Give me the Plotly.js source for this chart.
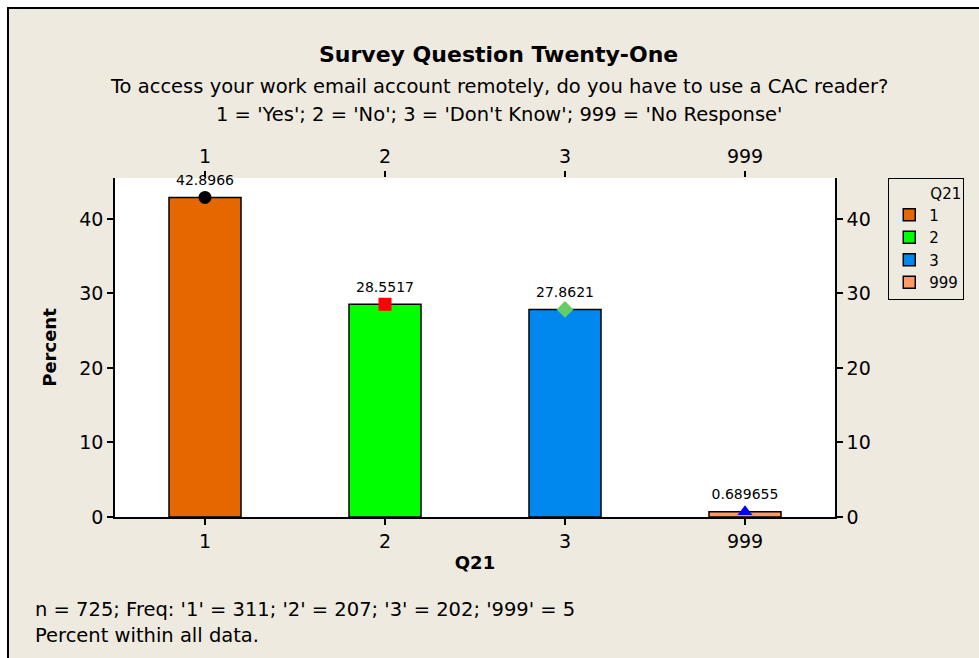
<!DOCTYPE html>
<html>
<head>
<meta charset="utf-8">
<script src="https://cdn.plot.ly/plotly-3.0.1.min.js"></script>
<style>
  body { margin: 0; background: #ffffff; }
  #chart {
    position: absolute; left: 7px; top: 7px;
    width: 972px; height: 651px;
    border-top: 2px solid #000; border-left: 2px solid #000;
  }
</style>
</head>
<body>
<div id="chart"></div>
<script>
const categories = ['1', '2', '3', '999'];
const percents = [42.8966, 28.5517, 27.8621, 0.689655];
const freqs = [311, 207, 202, 5];
const barColors = ['#E66600', '#00FF00', '#0088EE', '#FF9966'];
const pointSymbols = ['circle', 'square', 'diamond', 'triangle-up'];
const pointColors = ['#000000', '#FF0000', '#66CC66', '#0000FF'];
const yTicks = [0, 10, 20, 30, 40];

const font = 'DejaVu Sans, Verdana, sans-serif';
const bg = '#EEEAE0';

const traces = categories.map((c, i) => ({
    type: 'bar',
    x: [c],
    y: [percents[i]],
    name: c,
    width: 0.4,
    marker: { color: barColors[i], line: { color: '#000', width: 1.5 } },
    hoverinfo: 'x+y'
}));

// value labels and symbols on top of the bars
traces.push({
    type: 'scatter',
    mode: 'markers+text',
    x: categories,
    y: percents,
    text: percents.map(v => String(v)),
    textposition: 'top center',
    textfont: { family: font, size: 14, color: '#000' },
    marker: { symbol: pointSymbols, color: pointColors, size: 13 },
    cliponaxis: false,
    showlegend: false,
    hoverinfo: 'skip'
});

// invisible trace so the top and right axes get drawn
traces.push({
    type: 'scatter',
    mode: 'markers',
    x: categories,
    y: percents,
    xaxis: 'x2',
    yaxis: 'y2',
    marker: { opacity: 0 },
    showlegend: false,
    hoverinfo: 'skip'
});

const n = freqs.reduce((a, b) => a + b, 0);
const freqText = 'n = ' + n + '; Freq: ' +
    categories.map((c, i) => "'" + c + "' = " + freqs[i]).join('; ');

const axisCommon = {
    showline: true,
    linecolor: '#000',
    linewidth: 1.5,
    ticks: 'outside',
    ticklen: 6,
    tickwidth: 1.5,
    tickcolor: '#000',
    showgrid: false,
    zeroline: false,
    tickfont: { family: font, size: 19, color: '#000' },
    fixedrange: true
};

const layout = {
    width: 972,
    height: 651,
    paper_bgcolor: bg,
    plot_bgcolor: '#ffffff',
    margin: { l: 106, r: 146, t: 169, b: 143 },
    barmode: 'overlay',
    showlegend: true,
    font: { family: font, color: '#000' },
    xaxis: Object.assign({}, axisCommon, {
        type: 'category',
        categoryarray: categories,
        range: [-0.5, 3.5],
        title: { text: '<b>Q21</b>', font: { family: font, size: 18 }, standoff: 6 }
    }),
    xaxis2: Object.assign({}, axisCommon, {
        type: 'category',
        categoryarray: categories,
        range: [-0.5, 3.5],
        overlaying: 'x',
        side: 'top',
        showline: false
    }),
    yaxis: Object.assign({}, axisCommon, {
        range: [0, 45.5],
        tickvals: yTicks,
        title: { text: '<b>Percent</b>', font: { family: font, size: 18 }, standoff: 18 }
    }),
    yaxis2: Object.assign({}, axisCommon, {
        range: [0, 45.5],
        tickvals: yTicks,
        overlaying: 'y',
        side: 'right'
    }),
    legend: {
        x: 1.074, xanchor: 'left',
        y: 1.0, yanchor: 'top',
        bgcolor: bg,
        bordercolor: '#000',
        borderwidth: 1,
        font: { family: font, size: 15 },
        title: { text: 'Q21', side: 'top right', font: { family: font, size: 15 } },
        itemclick: false,
        itemdoubleclick: false
    },
    annotations: [
        {
            text: '<b>Survey Question Twenty-One</b>',
            xref: 'paper', yref: 'paper', x: 0.533, y: 1.363,
            xanchor: 'center', yanchor: 'middle', showarrow: false,
            font: { family: font, size: 22 }
        },
        {
            text: 'To access your work email account remotely, do you have to use a CAC reader?',
            xref: 'paper', yref: 'paper', x: 0.533, y: 1.271,
            xanchor: 'center', yanchor: 'middle', showarrow: false,
            font: { family: font, size: 19.5 }
        },
        {
            text: "1 = 'Yes'; 2 = 'No'; 3 = 'Don't Know'; 999 = 'No Response'",
            xref: 'paper', yref: 'paper', x: 0.533, y: 1.186,
            xanchor: 'center', yanchor: 'middle', showarrow: false,
            font: { family: font, size: 19.5 }
        },
        {
            text: freqText,
            xref: 'paper', yref: 'paper', x: -0.114, y: -0.274,
            xanchor: 'left', yanchor: 'middle', showarrow: false,
            font: { family: font, size: 19.5 }
        },
        {
            text: 'Percent within all data.',
            xref: 'paper', yref: 'paper', x: -0.114, y: -0.351,
            xanchor: 'left', yanchor: 'middle', showarrow: false,
            font: { family: font, size: 19.5 }
        }
    ]
};

Plotly.newPlot('chart', traces, layout, { displayModeBar: false });
</script>
</body>
</html>
